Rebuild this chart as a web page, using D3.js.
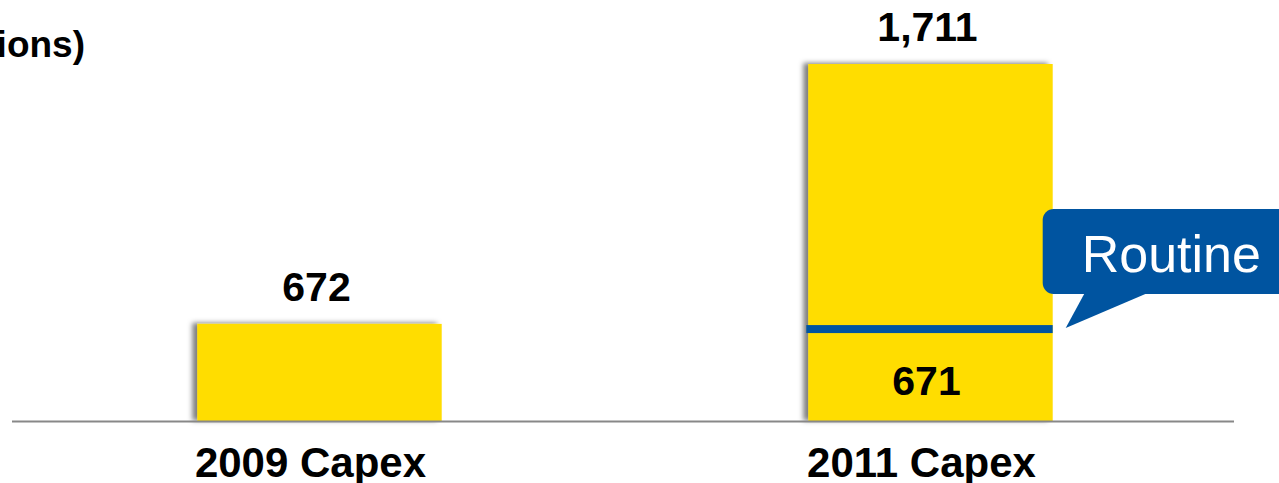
<!DOCTYPE html>
<html>
<head>
<meta charset="utf-8">
<script src="https://cdnjs.cloudflare.com/ajax/libs/d3/7.8.5/d3.min.js"></script>
<style>
  body { margin: 0; background: #fff; overflow: hidden; }
  text { font-family: "Liberation Sans", Arial, sans-serif; }
</style>
</head>
<body>
<script>
var categories = ['2009 Capex', '2011 Capex']
var totals = [672, 1711]
var routine = [null, 671]
var totalLabels = ['672', '1,711']
var routineLabels = [null, '671']
var unitTitle = '(US$ millions)'
var calloutText = 'Routine'

var yellow = '#ffdd00', blue = '#0054a0'

var width = 1279, height = 483
var svg = d3.select('body').append('svg').attr('width', width).attr('height', height)

var defs = svg.append('defs')
defs.append('filter').attr('id', 'shadow')
  .attr('x', '-10%').attr('y', '-10%').attr('width', '120%').attr('height', '120%')
  .append('feDropShadow')
  .attr('dx', -5).attr('dy', -1).attr('stdDeviation', 2.5)
  .attr('flood-color', '#000').attr('flood-opacity', 0.5)

var x = d3.scaleBand().domain(categories).range([14, 1236]).paddingInner(0.6).paddingOuter(0.3)
// bars in the source are not to one scale, so the scale is piecewise
var y = d3.scaleLinear().domain([0, 671.5, 1711]).range([421.5, 324, 64])

var rows = categories.map(function(c, i){
  return {cat: c, total: totals[i], routine: routine[i], label: totalLabels[i], rlabel: routineLabels[i]}
})

// title, partly off the left edge as in the source
svg.append('text').attr('x', 85).attr('y', 57).attr('text-anchor', 'end')
  .style('font-size', '37px').style('font-weight', 'bold').text(unitTitle)

svg.selectAll('rect.bar').data(rows).join('rect').attr('class', 'bar')
  .attr('x', function(d){ return x(d.cat) })
  .attr('width', x.bandwidth())
  .attr('y', function(d){ return y(d.total) })
  .attr('height', function(d){ return y(0) - y(d.total) })
  .attr('fill', yellow)
  .attr('filter', 'url(#shadow)')

// axis line
svg.append('line').attr('x1', 12).attr('x2', 1234).attr('y1', y(0)).attr('y2', y(0))
  .attr('stroke', '#888').attr('stroke-width', 2)

var withRoutine = rows.filter(function(d){ return d.routine != null })

svg.selectAll('rect.routine').data(withRoutine).join('rect').attr('class', 'routine')
  .attr('x', function(d){ return x(d.cat) - 2 })
  .attr('width', x.bandwidth() + 2)
  .attr('y', function(d){ return y(d.routine) + 1 })
  .attr('height', 8)
  .attr('fill', blue)

svg.selectAll('text.total').data(rows).join('text').attr('class', 'total')
  .attr('x', function(d){ return x(d.cat) + x.bandwidth() / 2 - 3 })
  .attr('y', function(d){ return y(d.total) - 23 })
  .attr('text-anchor', 'middle')
  .style('font-size', '41px').style('font-weight', 'bold')
  .text(function(d){ return d.label })

svg.selectAll('text.rlabel').data(withRoutine).join('text').attr('class', 'rlabel')
  .attr('x', function(d){ return x(d.cat) + x.bandwidth() / 2 - 4 })
  .attr('y', y(0) - 27)
  .attr('text-anchor', 'middle')
  .style('font-size', '41px').style('font-weight', 'bold')
  .text(function(d){ return d.rlabel })

svg.selectAll('text.cat').data(rows).join('text').attr('class', 'cat')
  .attr('x', function(d){ return x(d.cat) + x.bandwidth() / 2 - 9 })
  .attr('y', 477)
  .attr('text-anchor', 'middle')
  .style('font-size', '42px').style('font-weight', 'bold')
  .text(function(d){ return d.cat })

// callout
withRoutine.forEach(function(d){
  var tipX = x(d.cat) + x.bandwidth() + 13
  var tipY = y(d.routine) + 4
  var bx = tipX - 23, by = tipY - 119, bh = 85
  var g = svg.append('g')
  g.append('rect').attr('x', bx).attr('y', by).attr('width', 300).attr('height', bh)
    .attr('rx', 11).attr('fill', blue)
  g.append('path')
    .attr('d', d3.line()([[tipX + 19, by + bh - 1], [tipX + 82, by + bh - 1], [tipX, tipY]]) + 'Z')
    .attr('fill', blue)
  g.append('text').attr('x', bx + 39).attr('y', by + 63)
    .attr('fill', '#fff').style('font-size', '52px').text(calloutText)
})
</script>
</body>
</html>
